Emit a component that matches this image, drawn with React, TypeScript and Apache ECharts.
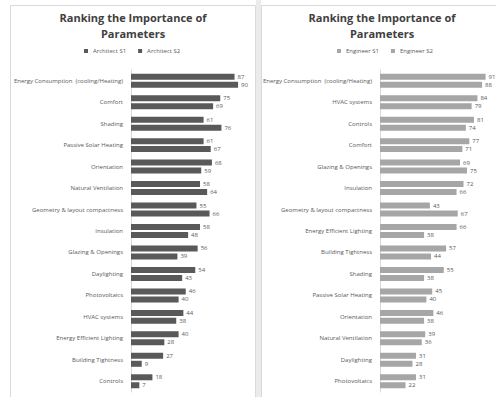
import React, { useEffect, useRef } from "react";
import * as echarts from "echarts";

const archCategories = [
  "Energy Consumption  (cooling/Heating)",
  "Comfort",
  "Shading",
  "Passive Solar Heating",
  "Orientation",
  "Natural Ventilation",
  "Geometry & layout compactness",
  "Insulation",
  "Glazing & Openings",
  "Daylighting",
  "Photovoltaics",
  "HVAC systems",
  "Energy Efficient Lighting",
  "Building Tightness",
  "Controls",
];
const architectS1 = [87, 75, 61, 61, 68, 58, 55, 58, 56, 54, 46, 44, 40, 27, 18];
const architectS2 = [90, 69, 76, 67, 59, 64, 66, 48, 39, 43, 40, 38, 28, 9, 7];

const engCategories = [
  "Energy Consumption  (cooling/Heating)",
  "HVAC systems",
  "Controls",
  "Comfort",
  "Glazing & Openings",
  "Insulation",
  "Geometry & layout compactness",
  "Energy Efficient Lighting",
  "Building Tightness",
  "Shading",
  "Passive Solar Heating",
  "Orientation",
  "Natural Ventilation",
  "Daylighting",
  "Photovoltaics",
];
const engineerS1 = [91, 84, 81, 77, 69, 72, 43, 66, 57, 55, 45, 46, 39, 31, 31];
const engineerS2 = [88, 79, 74, 71, 75, 66, 67, 38, 44, 38, 40, 38, 36, 28, 22];

const titleText = "Ranking the Importance of\nParameters";

export default function App() {
  const ref = useRef<HTMLDivElement>(null);
  useEffect(() => {
    if (!ref.current) return;
    const chart = echarts.init(ref.current, null, { renderer: "svg" });
    const font = "'Open Sans', 'Noto Sans', sans-serif";
    const labelColor = "#595959";
    const darkBar = "#595959";
    const lightBar = "#a6a6a6";
    const grids = [
      { left: 131, top: 70, width: 119, height: 322 },
      { left: 380, top: 70, width: 119, height: 322 },
    ];
    const makeY = (idx: number, cats: string[]) => ({
      type: "category",
      gridIndex: idx,
      data: cats,
      inverse: true,
      axisTick: { show: false },
      axisLine: { show: true, lineStyle: { color: "#d9d9d9", width: 1 } },
      axisLabel: { fontSize: 6, color: labelColor, fontFamily: font, margin: 8 },
    });
    const makeX = (idx: number) => ({
      type: "value",
      gridIndex: idx,
      min: 0,
      max: 100,
      show: false,
      splitLine: { show: false },
    });
    const makeSeries = (name: string, data: number[], idx: number, color: string) => ({
      name,
      type: "bar",
      xAxisIndex: idx,
      yAxisIndex: idx,
      data,
      barWidth: 6,
      barGap: "33%",
      itemStyle: { color },
      label: {
        show: true,
        position: "right",
        distance: 3,
        fontSize: 6,
        color: labelColor,
        fontFamily: font,
      },
    });
    const titleStyle = { fontSize: 11, fontWeight: "bold", color: "#404040", fontFamily: font, lineHeight: 16 };
    const legendBase = {
      top: 48,
      padding: 0,
      itemWidth: 4,
      itemHeight: 4,
      itemGap: 12,
      icon: "rect",
      textStyle: { fontSize: 6, color: labelColor, fontFamily: font },
    };
    chart.setOption({
      animation: false,
      backgroundColor: "#ffffff",
      graphic: [
        { type: "rect", shape: { x: 256, y: 0, width: 5, height: 397 }, style: { fill: "#ebebeb" }, z: -10 },
        { type: "rect", shape: { x: 10.5, y: 5.5, width: 245, height: 395 }, style: { fill: "none", stroke: "#d9d9d9", lineWidth: 1 }, z: -10 },
        { type: "rect", shape: { x: 261.5, y: 5.5, width: 240, height: 395 }, style: { fill: "none", stroke: "#d9d9d9", lineWidth: 1 }, z: -10 },
      ],
      title: [
        { text: titleText, left: 133, top: 9, padding: 0, textAlign: "center", textStyle: titleStyle },
        { text: titleText, left: 382, top: 9, padding: 0, textAlign: "center", textStyle: titleStyle },
      ],
      legend: [
        { ...legendBase, data: ["Architect S1", "Architect S2"], left: 84 },
        { ...legendBase, data: ["Engineer S1", "Engineer S2"], left: 337 },
      ],
      grid: grids,
      xAxis: [makeX(0), makeX(1)],
      yAxis: [makeY(0, archCategories), makeY(1, engCategories)],
      series: [
        makeSeries("Architect S1", architectS1, 0, darkBar),
        makeSeries("Architect S2", architectS2, 0, darkBar),
        makeSeries("Engineer S1", engineerS1, 1, lightBar),
        makeSeries("Engineer S2", engineerS2, 1, lightBar),
      ],
    });
    return () => chart.dispose();
  }, []);
  return (
    <div
      ref={ref}
      style={{ position: "fixed", left: 0, top: 0, width: 496, height: 397 }}
    />
  );
}
